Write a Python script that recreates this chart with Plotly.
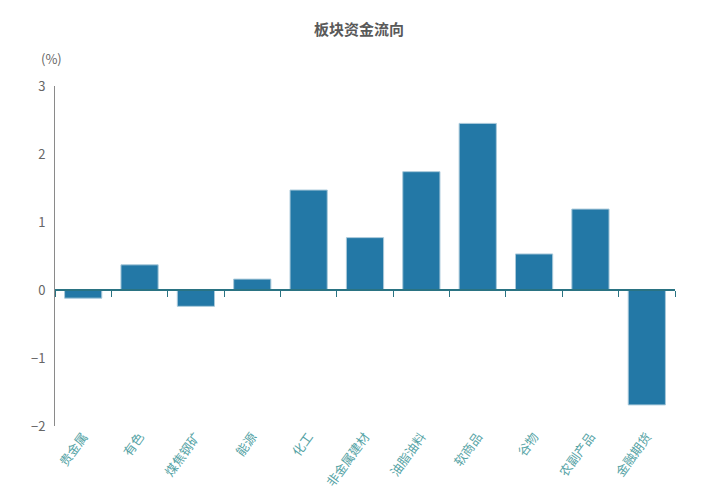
import plotly.graph_objects as go

categories = ["贵金属", "有色", "煤焦钢矿", "能源", "化工", "非金属建材",
              "油脂油料", "软商品", "谷物", "农副产品", "金融期货"]
values = [-0.12, 0.37, -0.24, 0.16, 1.47, 0.77, 1.74, 2.45, 0.53, 1.19, -1.69]
y_ticks = [-2, -1, 0, 1, 2, 3]

FONT = "Noto Sans CJK SC, Noto Sans, sans-serif"

fig = go.Figure()
fig.add_trace(go.Bar(
    x=categories, y=values,
    marker=dict(color="#2378a6", line=dict(color="#a9c9da", width=1)),
    width=0.66, hoverinfo="x+y", showlegend=False,
))
# invisible trace for the zero-line axis (category boundary ticks)
fig.add_trace(go.Scatter(x=categories, y=[0] * len(categories), xaxis="x2",
                         mode="markers", marker=dict(opacity=0),
                         hoverinfo="skip", showlegend=False))

fig.update_layout(
    width=718, height=501,
    margin=dict(l=55, r=43, t=86, b=75),
    paper_bgcolor="white", plot_bgcolor="white",
    font=dict(family=FONT),
    title=dict(text="<b>板块资金流向</b>", x=0.5, xanchor="center", y=0.94,
               yanchor="middle", font=dict(size=15, color="#595959")),
    xaxis=dict(
        type="category", range=[-0.5, len(categories) - 0.5],
        showline=False, showgrid=False, zeroline=False, ticks="",
        tickangle=-54, tickfont=dict(size=12.5, color="#55a3a5"),
    ),
    xaxis2=dict(
        type="category", overlaying="x", anchor="free", position=0.4,
        range=[-0.5, len(categories) - 0.5], matches="x",
        showline=True, linecolor="#2a7382", linewidth=2,
        ticks="outside", tickson="boundaries", ticklen=6, tickcolor="#2a7382",
        showticklabels=False, showgrid=False, zeroline=False,
    ),
    yaxis=dict(
        range=[-2, 3], tickvals=y_ticks, showgrid=False, zeroline=False,
        showline=True, linecolor="#8a8a8a", linewidth=1, ticks="",
        tickfont=dict(size=13, color="#666666"), ticklabelstandoff=6,
    ),
    annotations=[dict(text="(%)", xref="paper", yref="paper", x=-0.005, y=1.08,
                      xanchor="center", yanchor="middle", showarrow=False,
                      font=dict(size=13, color="#666666"))],
    bargap=0.33,
)

fig.write_html("out.html")
